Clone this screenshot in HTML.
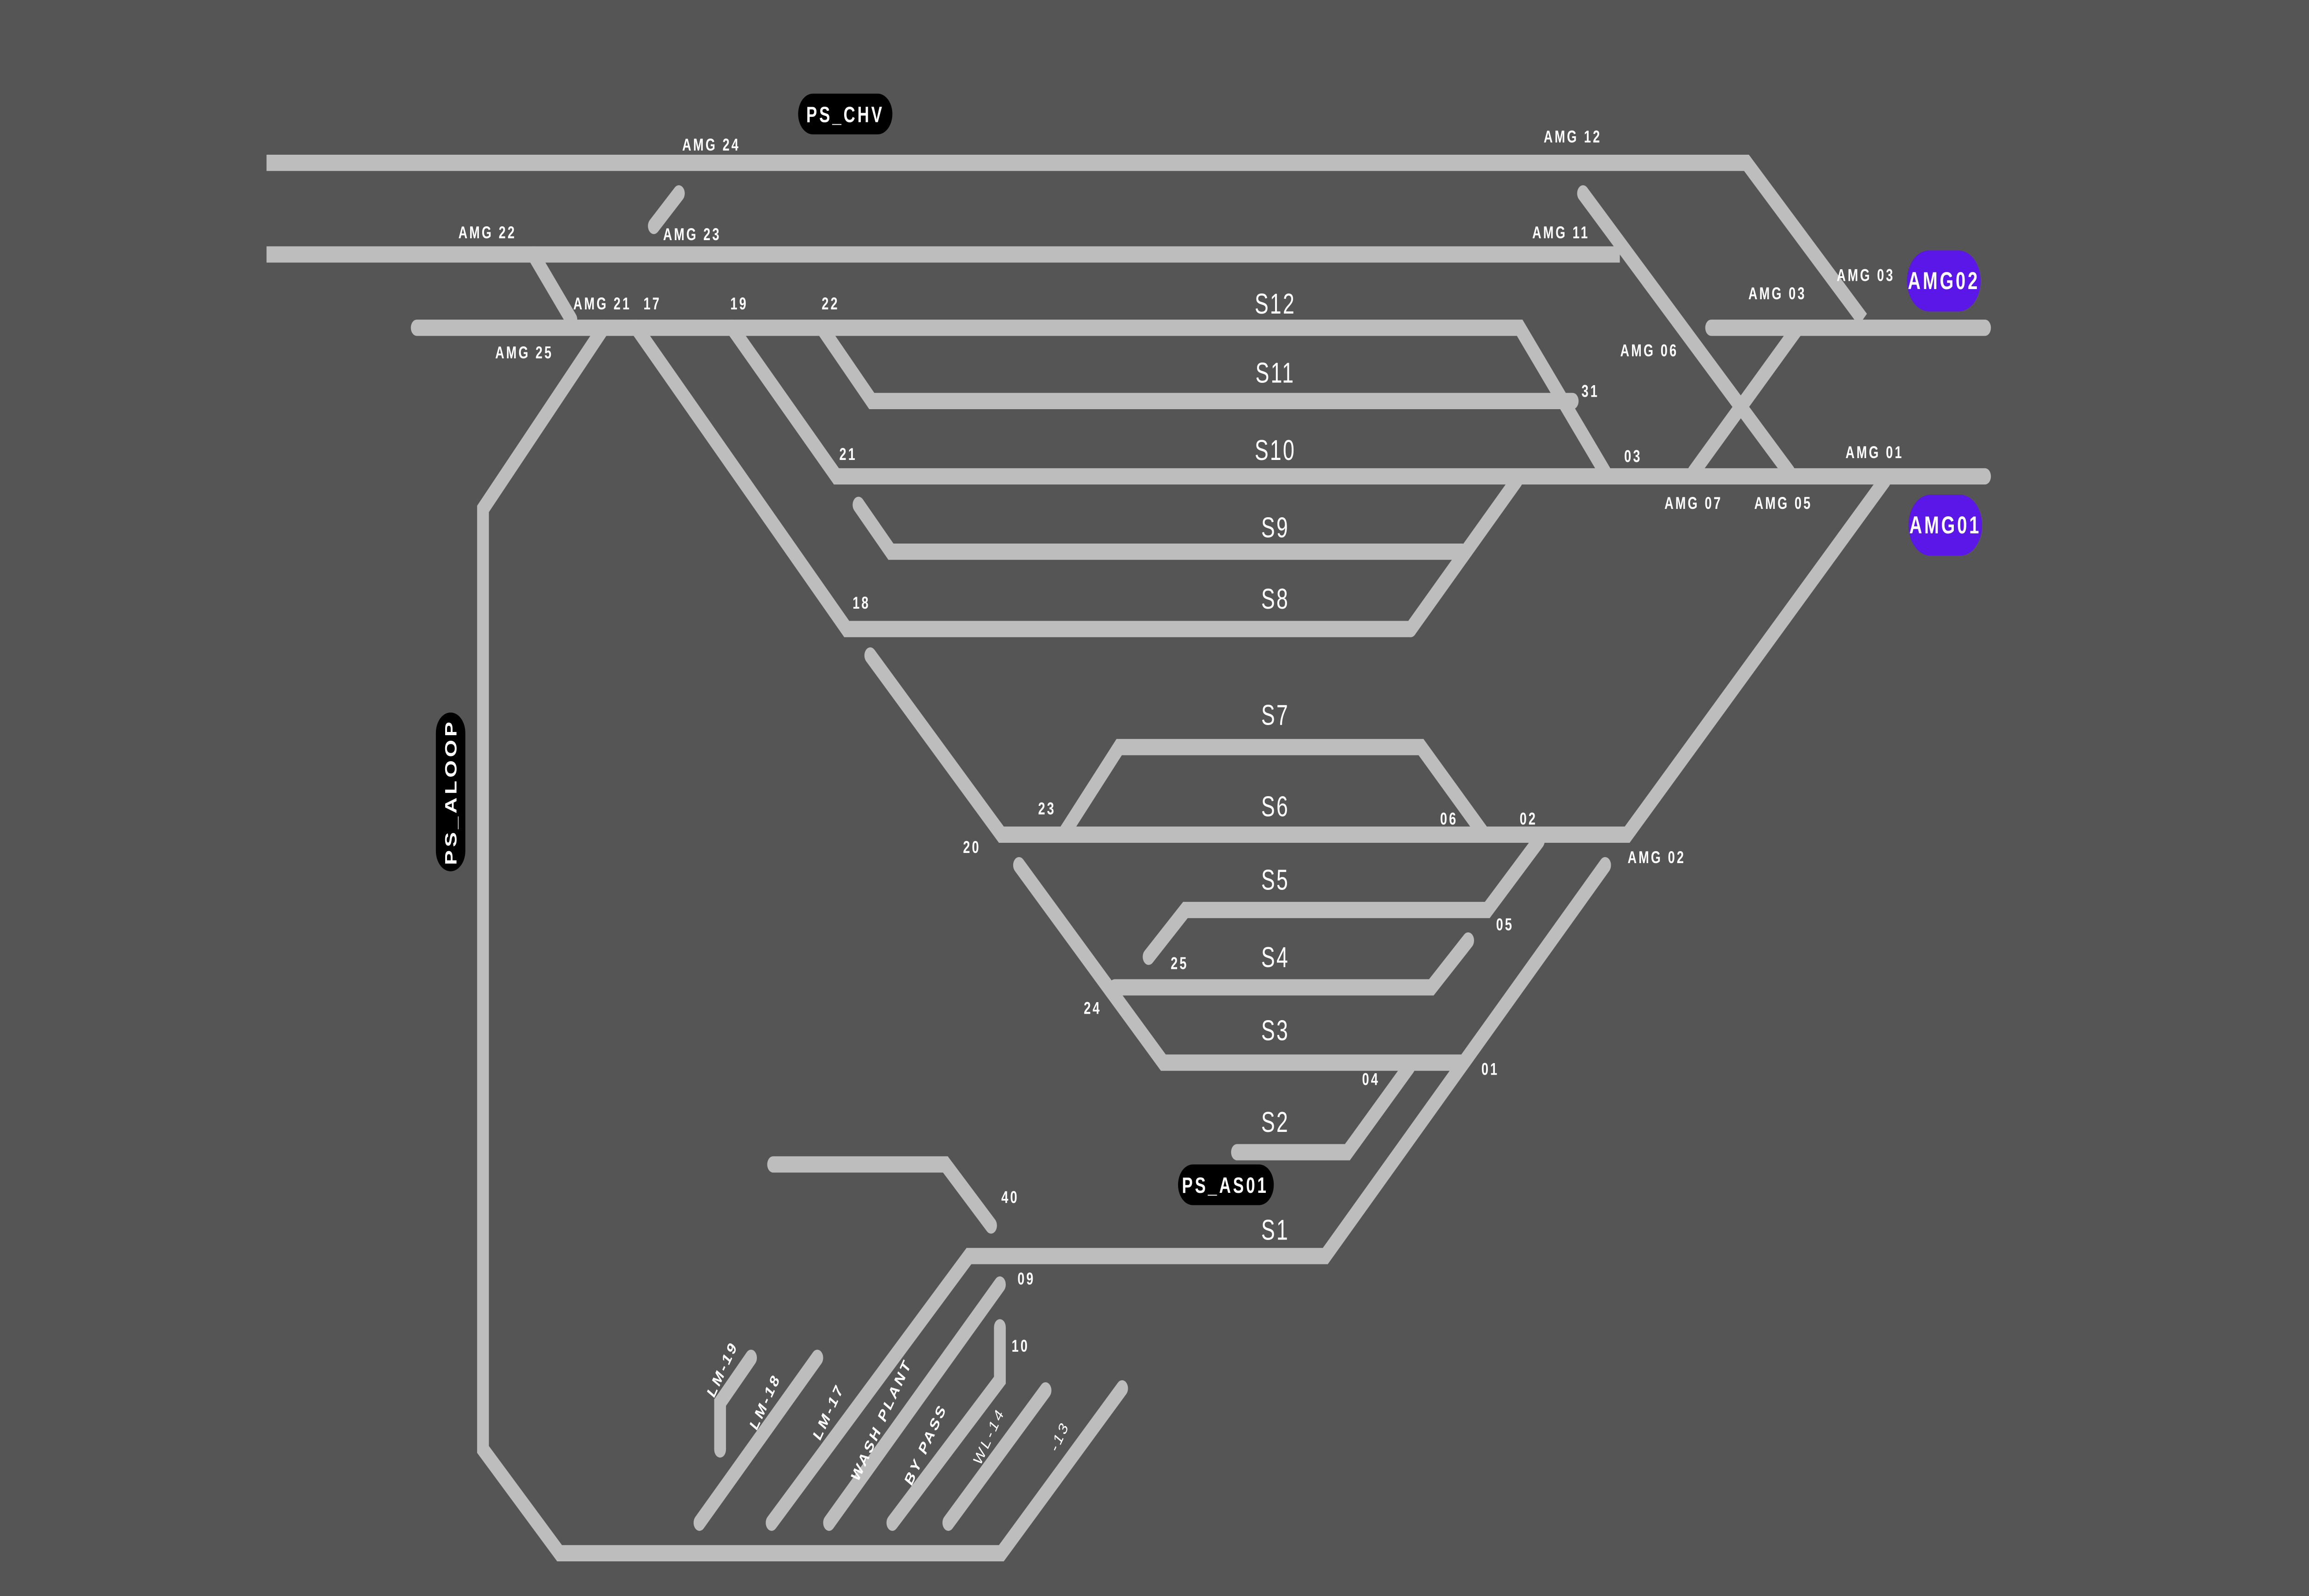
<!DOCTYPE html>
<html><head><meta charset="utf-8"><style>
html,body{margin:0;padding:0;background:#555555;overflow:hidden;width:100vw;height:100vh}
svg{display:block;position:absolute;left:0;top:0;width:100vw;height:100vh}
.t{fill:#fff;font-family:"Liberation Sans",sans-serif;font-weight:bold;font-size:8.5px;letter-spacing:1.3px;text-anchor:middle}
.s{fill:#fff;font-family:"Liberation Sans",sans-serif;font-size:14px;letter-spacing:1px;text-anchor:middle}
.p{fill:#fff;font-family:"Liberation Sans",sans-serif;font-weight:bold;font-size:11px;letter-spacing:1.5px;text-anchor:middle}
</style></head><body>
<svg viewBox="0 0 1568 784" preserveAspectRatio="none" xmlns="http://www.w3.org/2000/svg">
<rect width="1568" height="784" fill="#555555"/>
<g fill="none" stroke="#bdbdbd" stroke-width="8" stroke-linecap="round" stroke-linejoin="miter">
<polyline stroke-linecap="butt" points="181,80 1186,80 1265,157"/>
<polyline stroke-linecap="butt" points="181,125 1100,125"/>
<polyline points="1075,95 1215,232"/>
<polyline points="1220,162 1150,232"/>
<polyline points="444,111 461,95"/>
<polyline points="362,125 388,157"/>
<polyline points="283,161 1032,161 1090,232"/>
<polyline points="558,161 592,197 1068,197"/>
<polyline points="1162,161 1348,161"/>
<polyline points="497,161 568,234 1348,234"/>
<polyline points="583,248 605,271 993,271"/>
<polyline points="1030,236 958,309"/>
<polyline points="432,161 575,309 958,309"/>
<polyline points="410,161 328,250 328,712 380,763 680,763 762,682"/>
<polyline points="591,322 680,410 1105,410 1280,236"/>
<polyline points="722,410 760,367 965,367 1008,410"/>
<polyline points="780,470 805,447 1010,447 1045,413"/>
<polyline points="692,425 790,522 993,522"/>
<polyline points="757,485 972,485 997,462"/>
<polyline points="1090,425 900,617 658,617 524,748"/>
<polyline points="957,524 915,566 840,566"/>
<polyline points="525,572 642,572 673,602"/>
<polyline points="679,631 563,748"/>
<polyline points="679,652 679,678 606,748"/>
<polyline points="710,683 644,748"/>
<polyline points="555,667 475,748"/>
<polyline points="510,667 489,689 489,712"/>
</g>
<rect x="542" y="46" width="64" height="20" rx="10" fill="#000"/>
<text class="p" x="574" y="60">PS_CHV</text>
<rect x="800" y="572" width="65" height="20" rx="10" fill="#000"/>
<text class="p" x="832" y="586">PS_AS01</text>
<rect x="296" y="350" width="20" height="78" rx="10" fill="#000"/>
<text class="p" transform="translate(310,389) rotate(-90)" x="0" y="0">PS_ALOOP</text>
<rect x="1295" y="123" width="50" height="30" rx="15" fill="#5b16e8"/>
<text class="p" x="1320" y="142" style="font-size:12px">AMG02</text>
<rect x="1296" y="243" width="50" height="30" rx="15" fill="#5b16e8"/>
<text class="p" x="1321" y="262" style="font-size:12px">AMG01</text>
<g class="t">
<text x="483" y="74">AMG 24</text>
<text x="331" y="117">AMG 22</text>
<text x="470" y="118">AMG 23</text>
<text x="409" y="152">AMG 21</text>
<text x="443" y="152">17</text>
<text x="502" y="152">19</text>
<text x="564" y="152">22</text>
<text x="356" y="176">AMG 25</text>
<text x="576" y="226">21</text>
<text x="585" y="299">18</text>
<text x="660" y="419">20</text>
<text x="711" y="400">23</text>
<text x="984" y="405">06</text>
<text x="1038" y="405">02</text>
<text x="1022" y="457">05</text>
<text x="801" y="476">25</text>
<text x="742" y="498">24</text>
<text x="931" y="533">04</text>
<text x="1012" y="528">01</text>
<text x="686" y="591">40</text>
<text x="697" y="631">09</text>
<text x="693" y="664">10</text>
<text x="1125" y="424">AMG 02</text>
<text x="1068" y="70">AMG 12</text>
<text x="1060" y="117">AMG 11</text>
<text x="1267" y="138">AMG 03</text>
<text x="1207" y="147">AMG 03</text>
<text x="1120" y="175">AMG 06</text>
<text x="1080" y="195">31</text>
<text x="1109" y="227">03</text>
<text x="1150" y="250">AMG 07</text>
<text x="1211" y="250">AMG 05</text>
<text x="1273" y="225">AMG 01</text>
<text transform="translate(493,674) rotate(-58)">LM-19</text>
<text transform="translate(522,690) rotate(-58)">LM-18</text>
<text transform="translate(565,695) rotate(-58)">LM-17</text>
<text transform="translate(601,699) rotate(-58)">WASH PLANT</text>
<text transform="translate(631,711) rotate(-58)">BY PASS</text>
<text transform="translate(674,707) rotate(-58)" style="font-weight:normal">WL-14</text>
<text transform="translate(722,707) rotate(-58)" style="font-weight:normal">-13</text>
</g>
<g class="s">
<text x="866" y="154">S12</text>
<text x="866" y="188">S11</text>
<text x="866" y="226">S10</text>
<text x="866" y="264">S9</text>
<text x="866" y="299">S8</text>
<text x="866" y="356">S7</text>
<text x="866" y="401">S6</text>
<text x="866" y="437">S5</text>
<text x="866" y="475">S4</text>
<text x="866" y="511">S3</text>
<text x="866" y="556">S2</text>
<text x="866" y="609">S1</text>
</g>
</svg>
</body></html>
